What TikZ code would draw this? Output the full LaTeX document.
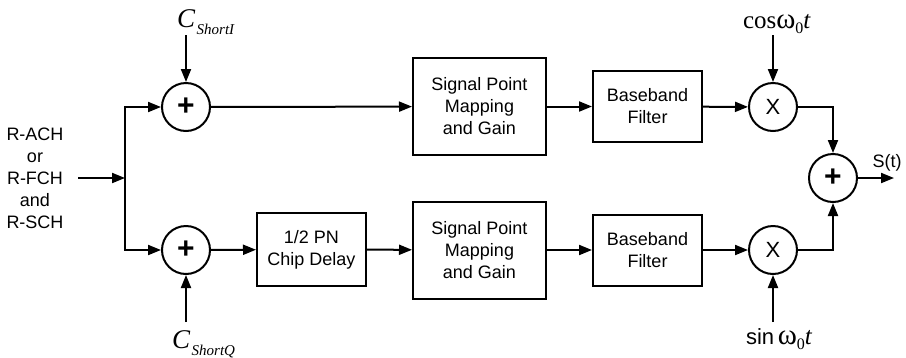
\documentclass[tikz,border=0pt]{standalone}
\usepackage{fontspec}
\setmainfont{Liberation Sans}
\newfontfamily\serf{Liberation Serif}
\usetikzlibrary{arrows.meta}
\begin{document}
\begin{tikzpicture}[x=1pt,y=-1pt,
  line width=2pt,
  arr/.style={-{Triangle[length=13pt,width=10pt]}},
  sumc/.style={draw,circle,minimum size=48pt,inner sep=0pt,font=\fontsize{30}{30}\selectfont\bfseries},
  mulc/.style={draw,circle,minimum size=48pt,inner sep=0pt,font=\fontsize{22}{22}\selectfont},
  blk/.style={draw,align=center,inner sep=0pt,font=\fontsize{18}{22}\selectfont},
  txt/.style={align=center,inner sep=0pt,font=\fontsize{18}{22}\selectfont}]
\useasboundingbox (0,0) rectangle (906,357);
% nodes
\node[sumc] (a1) at (186,107) {\raisebox{1pt}{+}};
\node[sumc] (a2) at (186,250) {\raisebox{1pt}{+}};
\node[blk,minimum width=109pt,minimum height=73pt] (dly) at (311.5,249.5) {1/2 PN\\Chip Delay};
\node[blk,minimum width=133pt,minimum height=97pt] (spm1) at (479.5,106.5) {Signal Point\\Mapping\\and Gain};
\node[blk,minimum width=133pt,minimum height=97pt] (spm2) at (479.5,250) {Signal Point\\Mapping\\and Gain};
\node[blk,minimum width=109pt,minimum height=71pt] (bb1) at (647.5,106.5) {Baseband\\Filter};
\node[blk,minimum width=109pt,minimum height=71pt] (bb2) at (647.5,250) {Baseband\\Filter};
\node[mulc] (m1) at (773,107) {X};
\node[mulc] (m2) at (773,250) {X};
\node[sumc] (a3) at (833,178) {\raisebox{1pt}{+}};
% labels
\node[txt] (inp) at (35,178) {R-ACH\\or\\R-FCH\\and\\R-SCH};
\node[anchor=base west,inner sep=0pt] (ci) at (176,27)
  {{\serf\itshape\fontsize{27}{27}\selectfont C}\,{\serf\itshape\fontsize{15}{15}\selectfont\raisebox{-7pt}{ShortI}}};
\node[anchor=base west,inner sep=0pt] (cq) at (171,348)
  {{\serf\itshape\fontsize{27}{27}\selectfont C}\,{\serf\itshape\fontsize{15}{15}\selectfont\raisebox{-7pt}{ShortQ}}};
\node[anchor=base west,inner sep=0pt] (cosl) at (742,28)
  {{\serf\fontsize{25}{25}\selectfont cos}{\serf\fontsize{29}{29}\selectfont ω}{\serf\fontsize{16}{16}\selectfont\raisebox{-5pt}{0}}{\serf\itshape\fontsize{25}{25}\selectfont t}};
\node[anchor=base west,inner sep=0pt] (sinl) at (745,344)
  {{\fontsize{22}{22}\selectfont sin\,}{\serf\fontsize{29}{29}\selectfont ω}{\serf\fontsize{16}{16}\selectfont\raisebox{-5pt}{0}}{\serf\itshape\fontsize{25}{25}\selectfont t}};
\node[txt,anchor=base] (st) at (887,167) {S(t)};
% coordinates
\coordinate (in0) at (78,178);
\coordinate (j) at (125,178);
\coordinate (jt) at (125,107);
\coordinate (jb) at (125,250);
\coordinate (ci0) at (186,35);
\coordinate (cq0) at (186,322);
\coordinate (co0) at (773,35);
\coordinate (si0) at (773,322);
\coordinate (out) at (894,178);
% connectors
\draw[arr] (in0) -- (j);
\draw[line cap=rect] (jt) -- (jb);
\draw[arr] (jt) -- (a1);
\draw[arr] (jb) -- (a2);
\draw[arr] (ci0) -- (a1);
\draw[arr] (cq0) -- (a2);
\draw[arr] (a1) -- (spm1);
\draw[arr] (a2) -- (dly);
\draw[arr] (dly) -- (spm2);
\draw[arr] (spm1) -- (bb1);
\draw[arr] (spm2) -- (bb2);
\draw[arr] (bb1) -- (m1);
\draw[arr] (bb2) -- (m2);
\draw[arr] (co0) -- (m1);
\draw[arr] (si0) -- (m2);
\draw[arr] (m1) -| (a3);
\draw[arr] (m2) -| (a3);
\draw[arr] (a3) -- (out);
\end{tikzpicture}
\end{document}
